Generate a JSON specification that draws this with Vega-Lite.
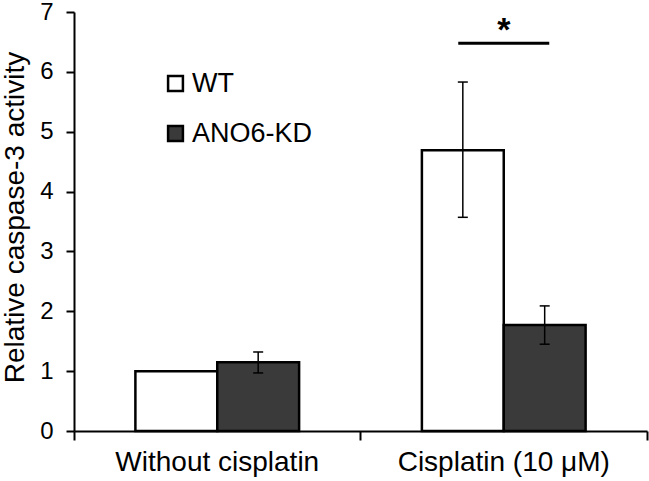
{
  "$schema": "https://vega.github.io/schema/vega-lite/v6.json",
  "width": 573,
  "height": 419,
  "autosize": {"type": "none"},
  "padding": {"left": 74, "top": 12, "right": 2, "bottom": 50},
  "background": "white",
  "datasets": {
    "bars": [
      {"cond": "Without cisplatin", "group": "WT", "mean": 1.0},
      {"cond": "Without cisplatin", "group": "ANO6-KD", "mean": 1.15, "lo": 0.97, "hi": 1.32},
      {"cond": "Cisplatin (10 μM)", "group": "WT", "mean": 4.69, "lo": 3.57, "hi": 5.83},
      {"cond": "Cisplatin (10 μM)", "group": "ANO6-KD", "mean": 1.77, "lo": 1.45, "hi": 2.09}
    ],
    "sig": [
      {"cond": "Cisplatin (10 μM)", "line": 6.48, "star": 6.68, "label": "*"}
    ]
  },
  "encoding": {
    "x": {
      "field": "cond", "type": "nominal", "sort": ["Without cisplatin", "Cisplatin (10 μM)"],
      "scale": {"paddingInner": 0, "paddingOuter": 0},
      "title": null,
      "axis": {
        "labelAngle": 0, "labelFont": "Liberation Sans", "labelFontSize": 28, "labelColor": "black",
        "labelLimit": 0, "labelPadding": 8, "domainColor": "black", "domainWidth": 2, "tickColor": "black",
        "tickWidth": 2, "tickSize": 9, "bandPosition": 1, "tickExtra": true
      }
    }
  },
  "layer": [
    {
      "data": {"name": "bars"},
      "mark": {"type": "bar", "stroke": "black", "strokeWidth": 2.5},
      "encoding": {
        "xOffset": {"field": "group", "type": "nominal", "sort": ["WT", "ANO6-KD"], "scale": {"paddingInner": 0, "paddingOuter": 0.75}},
        "y": {
          "field": "mean", "type": "quantitative", "scale": {"domain": [0, 7], "nice": false},
          "title": "Relative caspase-3 activity",
          "axis": {
            "values": [0, 1, 2, 3, 4, 5, 6, 7], "format": "d", "grid": false, "labelFont": "Liberation Sans", "labelFontSize": 24,
            "labelColor": "black", "labelPadding": 13, "tickSize": 8, "tickWidth": 2, "tickColor": "black",
            "domainColor": "black", "domainWidth": 2, "titleFont": "Liberation Sans", "titleFontSize": 28,
            "titleFontWeight": "normal", "titleColor": "black", "titlePadding": 10, "titleY": 205
          }
        },
        "fill": {
          "field": "group", "type": "nominal",
          "scale": {"domain": ["WT", "ANO6-KD"], "range": ["white", "#3a3a3a"]},
          "legend": {
            "title": null, "orient": "none", "legendX": 88, "legendY": 58, "symbolType": "square",
            "symbolSize": 220, "symbolStrokeColor": "black", "symbolStrokeWidth": 2.5,
            "labelFont": "Liberation Sans", "labelFontSize": 27, "labelColor": "black",
            "labelOffset": 3, "rowPadding": 22
          }
        }
      }
    },
    {
      "data": {"name": "bars"},
      "transform": [{"filter": "isValid(datum.lo)"}],
      "mark": {"type": "rule", "color": "black", "strokeWidth": 1.5},
      "encoding": {
        "xOffset": {"field": "group", "type": "nominal", "sort": ["WT", "ANO6-KD"]},
        "y": {"field": "lo", "type": "quantitative"},
        "y2": {"field": "hi"}
      }
    },
    {
      "data": {"name": "bars"},
      "transform": [{"filter": "isValid(datum.lo)"}],
      "mark": {"type": "tick", "color": "black", "opacity": 1, "size": 10, "thickness": 1.5, "orient": "horizontal"},
      "encoding": {
        "xOffset": {"field": "group", "type": "nominal", "sort": ["WT", "ANO6-KD"]},
        "y": {"field": "lo", "type": "quantitative"}
      }
    },
    {
      "data": {"name": "bars"},
      "transform": [{"filter": "isValid(datum.lo)"}],
      "mark": {"type": "tick", "color": "black", "opacity": 1, "size": 10, "thickness": 1.5, "orient": "horizontal"},
      "encoding": {
        "xOffset": {"field": "group", "type": "nominal", "sort": ["WT", "ANO6-KD"]},
        "y": {"field": "hi", "type": "quantitative"}
      }
    },
    {
      "data": {"name": "sig"},
      "mark": {"type": "tick", "color": "black", "opacity": 1, "size": 91, "thickness": 3, "orient": "horizontal"},
      "encoding": {
        "y": {"field": "line", "type": "quantitative"}
      }
    },
    {
      "data": {"name": "sig"},
      "mark": {"type": "text", "font": "Liberation Sans", "fontSize": 34, "fontWeight": "bold", "color": "black", "baseline": "middle"},
      "encoding": {
        "y": {"field": "star", "type": "quantitative"},
        "text": {"field": "label"}
      }
    }
  ],
  "config": {"view": {"stroke": null}}
}
